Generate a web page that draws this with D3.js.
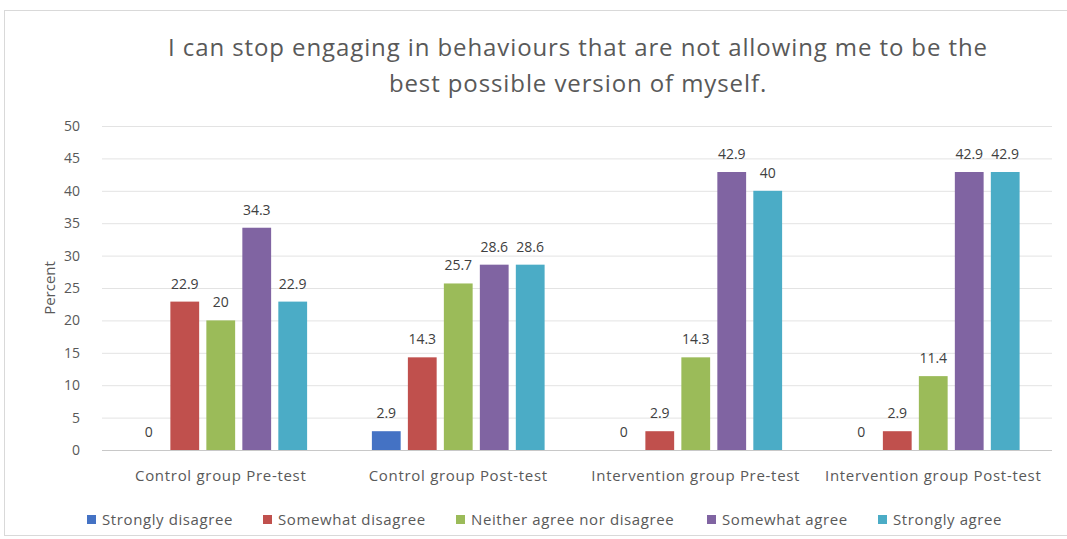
<!DOCTYPE html>
<html>
<head>
<meta charset="utf-8">
<script src="https://cdn.jsdelivr.net/npm/d3@7"></script>
<style>
  html, body { margin: 0; padding: 0; background: #fff; }
  svg { display: block; font-family: "Open Sans", "Noto Sans", sans-serif; }
</style>
</head>
<body>
<svg id="chart" width="1067" height="539"></svg>
<script>
// Survey groups along the x axis
const groups = [
  "Control group Pre-test",
  "Control group Post-test",
  "Intervention group Pre-test",
  "Intervention group Post-test"
];

// Response options (one bar each per group)
const responses = [
  "Strongly disagree",
  "Somewhat disagree",
  "Neither agree nor disagree",
  "Somewhat agree",
  "Strongly agree"
];

// Percent of respondents, one array per response option, ordered by group
const stronglyDisagree = [0, 2.9, 0, 0];
const somewhatDisagree = [22.9, 14.3, 2.9, 2.9];
const neitherAgree     = [20, 25.7, 14.3, 11.4];
const somewhatAgree    = [34.3, 28.6, 42.9, 42.9];
const stronglyAgree    = [22.9, 28.6, 40, 42.9];

const yTicks = [0, 5, 10, 15, 20, 25, 30, 35, 40, 45, 50];

const seriesValues = [stronglyDisagree, somewhatDisagree, neitherAgree, somewhatAgree, stronglyAgree];
const colors = ["#4472C4", "#C0504D", "#9BBB59", "#8064A2", "#4BACC6"];

const titleLines = [
  "I can stop engaging in behaviours that are not allowing me to be the",
  "best possible version of myself."
];

const svg = d3.select("#chart");
const W = 1067, H = 539;
const plot = { left: 102, right: 1052, top: 126, bottom: 450 };

// Outer frame
svg.append("rect")
  .attr("x", 4.5).attr("y", 10.5)
  .attr("width", W - 4).attr("height", H - 14)
  .attr("fill", "#fff").attr("stroke", "#d9d9d9");

const x0 = d3.scaleBand().domain(groups).range([plot.left, plot.right]).padding(0);
const x1 = d3.scaleBand().domain(responses).range([0, x0.bandwidth()])
  .paddingInner(0.2).paddingOuter(0.9);
const y = d3.scaleLinear().domain([0, 50]).range([plot.bottom, plot.top]);

// Title
svg.append("g").selectAll("text").data(titleLines).join("text")
  .attr("x", 578).attr("y", (d, i) => 56 + i * 36)
  .attr("text-anchor", "middle")
  .attr("font-size", 24)
  .attr("letter-spacing", 0.9)
  .attr("fill", "#595959")
  .text(d => d);

// Gridlines and y axis labels
const yAxis = d3.axisLeft(y).tickValues(yTicks).tickSize(-(plot.right - plot.left)).tickPadding(22);
const gy = svg.append("g").attr("transform", `translate(${plot.left},0)`).call(yAxis);
gy.select(".domain").remove();
gy.selectAll(".tick line").attr("stroke", d => d === 0 ? "#c8c8c8" : "#e3e3e3");
gy.selectAll(".tick text").attr("font-size", 14).attr("fill", "#595959")
  .attr("font-family", "'Open Sans', sans-serif");

// Y axis title
svg.append("text")
  .attr("transform", `translate(55,${(plot.top + plot.bottom) / 2}) rotate(-90)`)
  .attr("text-anchor", "middle")
  .attr("font-size", 15).attr("fill", "#595959")
  .text("Percent");

// Bars
const rows = [];
groups.forEach((g, gi) => {
  responses.forEach((r, ri) => rows.push({ g, r, ri, v: seriesValues[ri][gi] }));
});

svg.append("g").selectAll("rect").data(rows).join("rect")
  .attr("x", d => x0(d.g) + x1(d.r))
  .attr("y", d => y(d.v))
  .attr("width", x1.bandwidth())
  .attr("height", d => y(0) - y(d.v))
  .attr("fill", d => colors[d.ri]);

// Value labels
svg.append("g").selectAll("text").data(rows).join("text")
  .attr("x", d => x0(d.g) + x1(d.r) + x1.bandwidth() / 2)
  .attr("y", d => y(d.v) - 13)
  .attr("text-anchor", "middle")
  .attr("font-size", 14).attr("fill", "#404040")
  .text(d => d.v);

// Category axis labels
const xAxis = d3.axisBottom(x0).tickSize(0).tickPadding(20);
const gx = svg.append("g").attr("transform", `translate(0,${plot.bottom})`).call(xAxis);
gx.select(".domain").remove();
gx.selectAll(".tick text").attr("font-size", 15).attr("fill", "#595959")
  .attr("letter-spacing", 0.7)
  .attr("font-family", "'Open Sans', sans-serif");

// Legend
const legendX = [87, 263, 456, 707, 878];
const lg = svg.append("g").selectAll("g").data(responses).join("g")
  .attr("transform", (d, i) => `translate(${legendX[i]},525)`);
lg.append("rect").attr("x", 0).attr("y", -10).attr("width", 9).attr("height", 9)
  .attr("fill", (d, i) => colors[i]);
lg.append("text").attr("x", 15).attr("y", 0)
  .attr("font-size", 15).attr("letter-spacing", 0.6).attr("fill", "#595959")
  .text(d => d);
</script>
</body>
</html>
